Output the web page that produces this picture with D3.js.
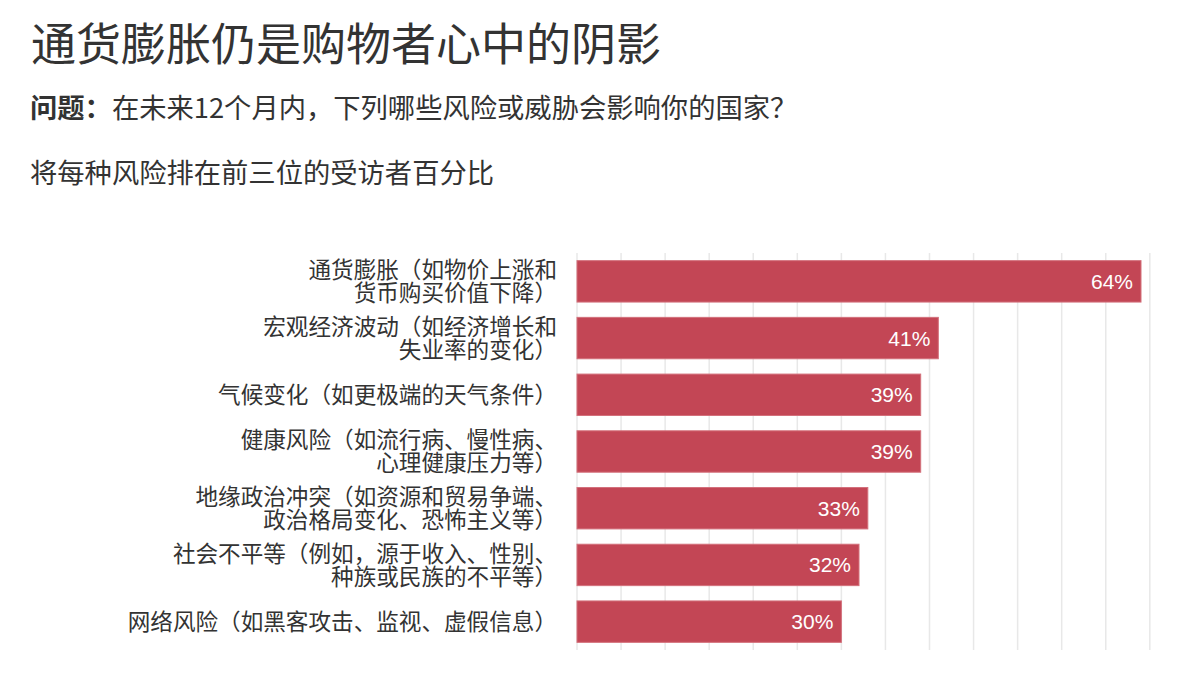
<!DOCTYPE html>
<html>
<head>
<meta charset="utf-8">
<script src="https://cdn.jsdelivr.net/npm/d3@7"></script>
<style>
  html, body { margin: 0; padding: 0; background: #fff; }
  svg { display: block; }
</style>
</head>
<body>
<svg id="chart" width="1200" height="680"></svg>
<script>
const title = "通货膨胀仍是购物者心中的阴影";
const questionLabel = "问题：";
const questionText = "在未来12个月内，下列哪些风险或威胁会影响你的国家？";
const subtitle = "将每种风险排在前三位的受访者百分比";

const categories = [
  ["通货膨胀（如物价上涨和", "货币购买价值下降）"],
  ["宏观经济波动（如经济增长和", "失业率的变化）"],
  ["气候变化（如更极端的天气条件）"],
  ["健康风险（如流行病、慢性病、", "心理健康压力等）"],
  ["地缘政治冲突（如资源和贸易争端、", "政治格局变化、恐怖主义等）"],
  ["社会不平等（例如，源于收入、性别、", "种族或民族的不平等）"],
  ["网络风险（如黑客攻击、监视、虚假信息）"]
];
const values = [64, 41, 39, 39, 33, 32, 30];
const gridTicks = [0, 5, 10, 15, 20, 25, 30, 35, 40, 45, 50, 55, 60, 65];

const svg = d3.select("#chart");
const cjk = "'Noto Sans CJK SC', 'Noto Sans', sans-serif";

svg.append("text")
  .attr("x", 31).attr("y", 61)
  .attr("font-family", cjk).attr("font-size", 45)
  .attr("fill", "#333")
  .text(title);

const q = svg.append("text")
  .attr("x", 30).attr("y", 118)
  .attr("font-family", cjk).attr("font-size", 27.3)
  .attr("fill", "#333");
q.append("tspan").attr("font-weight", "bold").text(questionLabel);
q.append("tspan").text(questionText);

svg.append("text")
  .attr("x", 30).attr("y", 183)
  .attr("font-family", cjk).attr("font-size", 27.3)
  .attr("fill", "#333")
  .text(subtitle);

const x = d3.scaleLinear().domain([0, 64]).range([577, 1141]);
const idx = d3.range(categories.length);
const y = d3.scaleBand().domain(idx).range([253, 650]).paddingInner(0.27).paddingOuter(0.135);

// gridlines
svg.append("g")
  .selectAll("line")
  .data(gridTicks)
  .join("line")
  .attr("x1", d => x(d)).attr("x2", d => x(d))
  .attr("y1", 253).attr("y2", 650)
  .attr("stroke", "#e8e8e8")
  .attr("stroke-width", 1.5);

// bars
svg.append("g")
  .selectAll("rect")
  .data(idx)
  .join("rect")
  .attr("x", x(0))
  .attr("y", i => y(i))
  .attr("width", i => x(values[i]) - x(0))
  .attr("height", y.bandwidth())
  .attr("fill", "#c34655")
  .attr("stroke", "#d3707b")
  .attr("stroke-width", 1);

// value labels
svg.append("g")
  .selectAll("text")
  .data(idx)
  .join("text")
  .attr("x", i => x(values[i]) - 8)
  .attr("y", i => y(i) + y.bandwidth() / 2)
  .attr("dy", "0.36em")
  .attr("text-anchor", "end")
  .attr("font-family", "'Liberation Sans', Arial, sans-serif")
  .attr("font-size", 21)
  .attr("fill", "#fff")
  .text(i => values[i] + "%");

// category labels
const lineH = 23;
const lab = svg.append("g")
  .selectAll("text")
  .data(idx)
  .join("text")
  .attr("text-anchor", "end")
  .attr("font-family", cjk)
  .attr("font-size", 22.6)
  .attr("fill", "#333");
lab.each(function(i) {
  const lines = categories[i];
  const cy = y(i) + y.bandwidth() / 2;
  const startY = cy - (lines.length - 1) * lineH / 2;
  d3.select(this).selectAll("tspan")
    .data(lines)
    .join("tspan")
    .attr("x", 557)
    .attr("y", (d, k) => startY + k * lineH)
    .attr("dy", "0.36em")
    .text(d => d);
});
</script>
</body>
</html>
